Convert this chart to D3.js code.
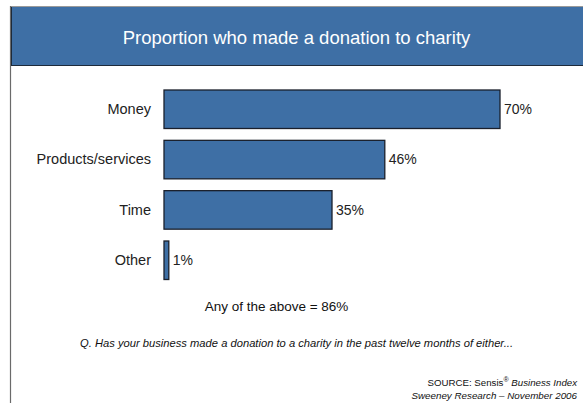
<!DOCTYPE html>
<html>
<head>
<meta charset="utf-8">
<script src="https://cdn.jsdelivr.net/npm/d3@7"></script>
<style>
  html, body { margin: 0; padding: 0; background: #fff; }
  svg { display: block; }
  text { font-family: "Liberation Sans", Arial, sans-serif; }
</style>
</head>
<body>
<svg id="chart" width="583" height="403"></svg>
<script>
const categories = ["Money", "Products/services", "Time", "Other"];
const values = [70, 46, 35, 1];
const valueLabels = ["70%", "46%", "35%", "1%"];
const title = "Proportion who made a donation to charity";
const summary = "Any of the above = 86%";
const question = "Q. Has your business made a donation to a charity in the past twelve months of either...";

const svg = d3.select("#chart");
const blue = "#3e6fa5";

// page frame: top and left rules
svg.append("line").attr("x1", 10).attr("x2", 583).attr("y1", 6.5).attr("y2", 6.5)
  .attr("stroke", "#9a9a9a").attr("stroke-width", 1);
svg.append("line").attr("x1", 10.5).attr("x2", 10.5).attr("y1", 6).attr("y2", 403)
  .attr("stroke", "#6a6a6a").attr("stroke-width", 1.2);

// header band
svg.append("rect").attr("x", 11).attr("y", 7).attr("width", 572).attr("height", 58)
  .attr("fill", blue);
svg.append("line").attr("x1", 11).attr("x2", 583).attr("y1", 65.5).attr("y2", 65.5)
  .attr("stroke", "#1d2a3a").attr("stroke-width", 1.2);
svg.append("line").attr("x1", 11.5).attr("x2", 11.5).attr("y1", 7).attr("y2", 66)
  .attr("stroke", "#1d2a3a").attr("stroke-width", 1);
svg.append("text").attr("x", 296.5).attr("y", 44).attr("text-anchor", "middle")
  .attr("fill", "#fff").attr("font-size", 18.5).text(title);

// scales
const x = d3.scaleLinear().domain([0, 70]).range([164, 500]);
const y = d3.scaleBand().domain(categories).range([90, 279.5])
  .paddingInner(0.235).paddingOuter(0);

const data = categories.map((c, i) => ({ cat: c, v: values[i], label: valueLabels[i] }));

// bars
svg.append("g").selectAll("rect").data(data).join("rect")
  .attr("x", x(0))
  .attr("y", d => y(d.cat))
  .attr("width", d => x(d.v) - x(0))
  .attr("height", y.bandwidth())
  .attr("fill", blue)
  .attr("stroke", "#1a1f2b")
  .attr("stroke-width", 1.3);

// category axis labels
const yAxis = d3.axisLeft(y).tickSize(0).tickPadding(13);
const ga = svg.append("g").attr("transform", `translate(${x(0)},0)`).call(yAxis);
ga.select(".domain").remove();
ga.selectAll("text").attr("font-size", 14.5).attr("fill", "#222")
  .style("font-family", '"Liberation Sans", Arial, sans-serif');

// value labels
svg.append("g").selectAll("text").data(data).join("text")
  .attr("x", d => x(d.v) + 4)
  .attr("y", d => y(d.cat) + y.bandwidth() / 2)
  .attr("dy", "0.35em")
  .attr("font-size", 14)
  .attr("fill", "#222")
  .text(d => d.label);

// summary and question
svg.append("text").attr("x", 276.5).attr("y", 311).attr("text-anchor", "middle")
  .attr("font-size", 13.5).attr("fill", "#111").text(summary);
svg.append("text").attr("x", 296.5).attr("y", 347).attr("text-anchor", "middle")
  .attr("font-size", 11.2).attr("font-style", "italic").attr("fill", "#111").text(question);

// source note
const src = svg.append("text").attr("x", 577).attr("y", 386).attr("text-anchor", "end")
  .attr("font-size", 9.7).attr("fill", "#111");
src.append("tspan").text("SOURCE: Sensis");
src.append("tspan").attr("font-size", 7).attr("dy", -4).text("®");
src.append("tspan").attr("dy", 4).attr("font-style", "italic").text(" Business Index");
svg.append("text").attr("x", 577).attr("y", 399).attr("text-anchor", "end")
  .attr("font-size", 9.8).attr("font-style", "italic").attr("fill", "#111")
  .text("Sweeney Research – November 2006");
</script>
</body>
</html>
